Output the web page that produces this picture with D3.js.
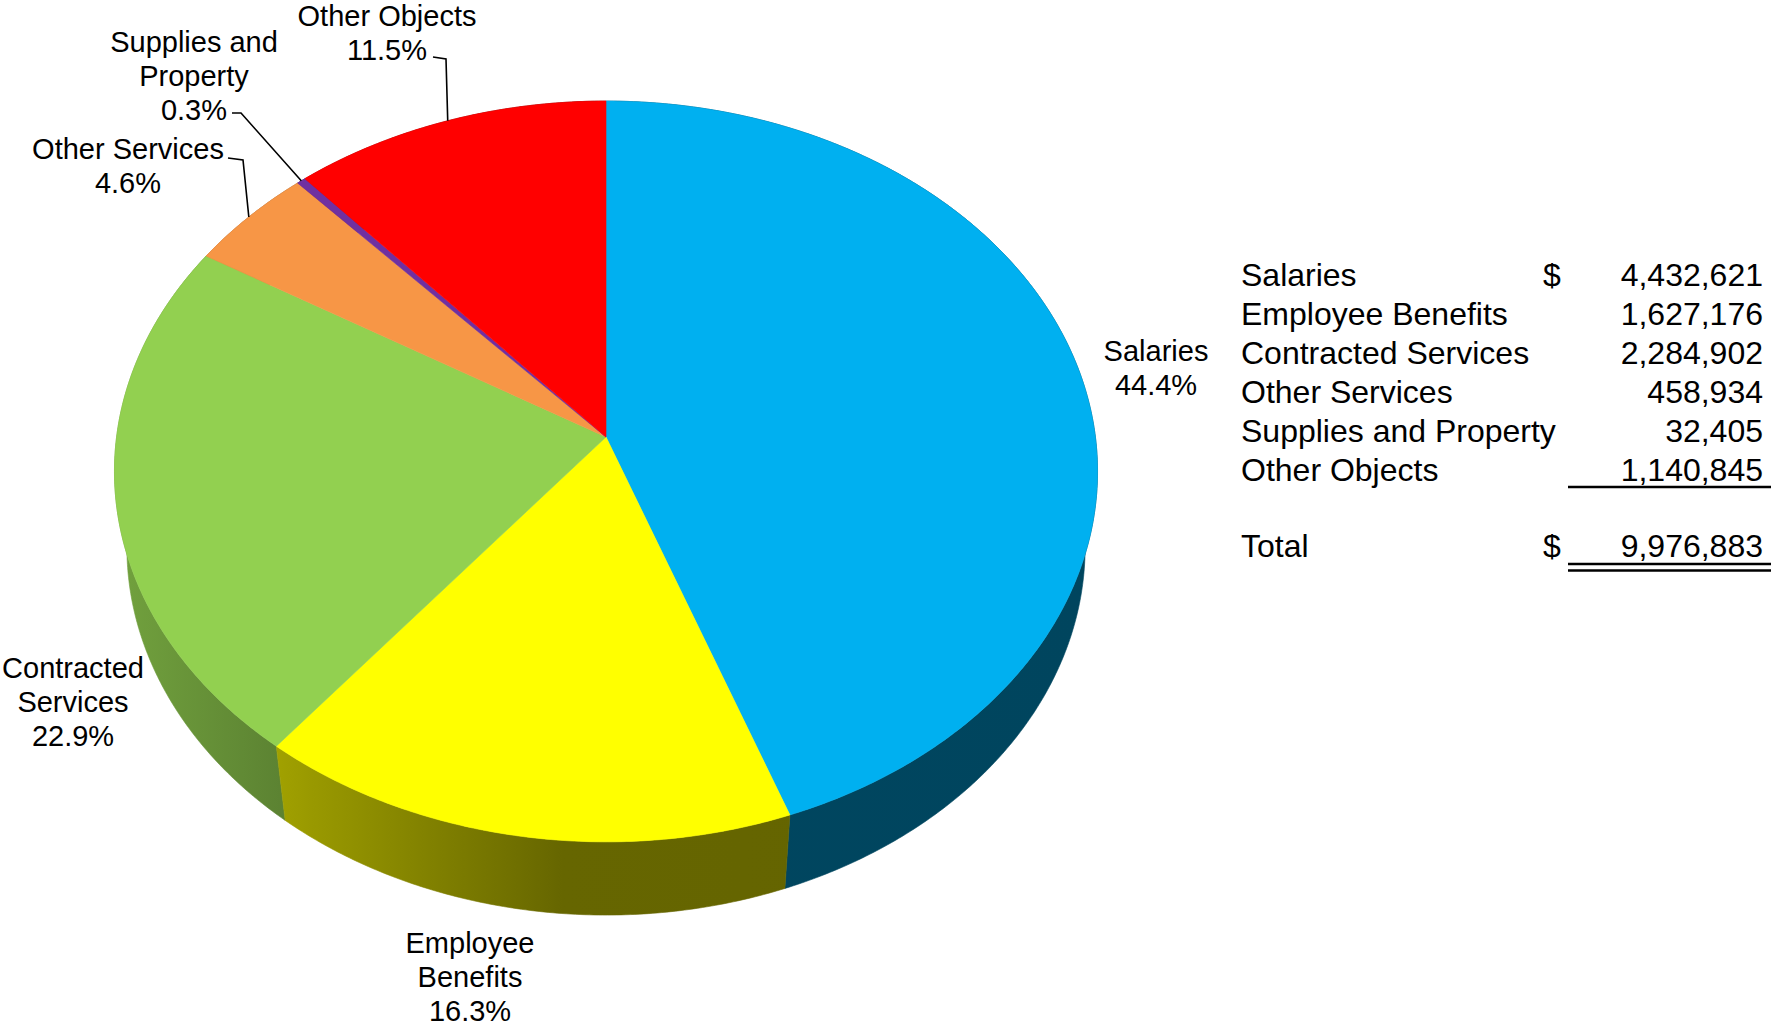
<!DOCTYPE html>
<html>
<head>
<meta charset="utf-8">
<script src="https://cdn.jsdelivr.net/npm/d3@7"></script>
<style>
  html, body { margin: 0; padding: 0; background: #ffffff; }
  svg { display: block; }
  text { font-family: "Liberation Sans", Arial, sans-serif; fill: #000; }
</style>
</head>
<body>
<svg id="chart" width="1771" height="1029"></svg>
<script>
// Expenditure categories, clockwise from twelve o'clock
const categories = ["Salaries", "Employee Benefits", "Contracted Services", "Other Services", "Supplies and Property", "Other Objects"];
const amounts = [4432621, 1627176, 2284902, 458934, 32405, 1140845];
const percentLabels = ["44.4%", "16.3%", "22.9%", "4.6%", "0.3%", "11.5%"];
const amountLabels = ["4,432,621", "1,627,176", "2,284,902", "458,934", "32,405", "1,140,845"];
const totalLabel = "9,976,883";
const sliceColors = ["#00b0f0", "#ffff00", "#92d050", "#f79646", "#7030a0", "#ff0000"];

// Pie label lines (category name split over lines, then the percentage)
const labelLines = [
  ["Salaries"],
  ["Employee", "Benefits"],
  ["Contracted", "Services"],
  ["Other Services"],
  ["Supplies and", "Property"],
  ["Other Objects"]
];

const svg = d3.select("#chart");

// ---- 3D perspective pie geometry ----
const cx = 606, cy = 437;          // projected centre of the pie's top face
const R = 489.4;                   // pie radius
const elev = Math.asin(0.7503);    // viewing elevation
const sinE = Math.sin(elev), cosE = Math.cos(elev);
const D = 3478;                    // camera distance
const H = 119;                     // pie thickness

function project(theta, r, y) {
  const X = r * Math.sin(theta);
  const Z = -r * Math.cos(theta);
  const yUp = y * cosE - Z * sinE;
  const depth = y * sinE + Z * cosE;
  const s = D / (D - depth);
  return [cx + s * X, cy - s * yUp];
}

function arcPoints(a0, a1, y) {
  const n = Math.max(2, Math.ceil((a1 - a0) / (Math.PI / 360)));
  const pts = [];
  for (let i = 0; i <= n; i++) pts.push(project(a0 + (a1 - a0) * i / n, R, y));
  return pts;
}

const pie = d3.pie().sort(null).value(d => d);
const arcs = pie(amounts);

// Side shading: lit from the left, darker toward the right
const defs = svg.append("defs");
sliceColors.forEach((c, i) => {
  const base = d3.rgb(c);
  const g = defs.append("linearGradient")
    .attr("id", "side" + i)
    .attr("gradientUnits", "userSpaceOnUse")
    .attr("x1", 114).attr("y1", 0).attr("x2", 1100).attr("y2", 0);
  [[0, 0.78], [0.2, 0.60], [0.455, 0.40], [1, 0.39]].forEach(([o, f]) => {
    g.append("stop").attr("offset", o)
      .attr("stop-color", d3.rgb(base.r * f, base.g * f, base.b * f).formatHex());
  });
});

const line = d3.line();

// Outer walls, far ones first
const wallOrder = arcs.map((a, i) => i)
  .sort((i, j) => Math.cos((arcs[j].startAngle + arcs[j].endAngle) / 2) - Math.cos((arcs[i].startAngle + arcs[i].endAngle) / 2));
const walls = svg.append("g");
wallOrder.forEach(i => {
  const a = arcs[i];
  const top = arcPoints(a.startAngle, a.endAngle, 0);
  const bottom = arcPoints(a.startAngle, a.endAngle, -H).reverse();
  walls.append("path")
    .attr("d", line(top.concat(bottom)) + "Z")
    .attr("fill", `url(#side${i})`)
    .attr("stroke", `url(#side${i})`)
    .attr("stroke-width", 0.6);
});

// Top faces
const tops = svg.append("g");
arcs.forEach((a, i) => {
  const pts = [project(0, 0, 0)].concat(arcPoints(a.startAngle, a.endAngle, 0));
  tops.append("path")
    .attr("d", line(pts) + "Z")
    .attr("fill", sliceColors[i])
    .attr("stroke", sliceColors[i])
    .attr("stroke-width", 0.6);
});

// ---- Data labels ----
const labelFont = 29, labelLead = 34;
// label block centre (x) and first-line centre (y)
const labelPos = [
  [1156, 351],
  [470, 943],
  [73, 668],
  [128, 149],
  [194, 42],
  [387, 16]
];
const labels = svg.append("g").attr("font-size", labelFont).attr("text-anchor", "middle");
arcs.forEach((a, i) => {
  const [lx, ly] = labelPos[i];
  const lines = labelLines[i].concat([percentLabels[i]]);
  lines.forEach((t, k) => {
    labels.append("text")
      .attr("x", lx)
      .attr("y", ly + k * labelLead + labelFont * 0.36)
      .text(t);
  });
});

// Leader lines from label elbows to the rim at each slice's mid-angle
const leaderElbows = {
  3: [[228, 158], [243, 160]],
  4: [[232, 113], [241, 113]],
  5: [[433, 57], [446, 59]]
};
Object.keys(leaderElbows).forEach(k => {
  const a = arcs[k];
  const rim = project((a.startAngle + a.endAngle) / 2, R, 0);
  svg.append("path")
    .attr("d", line(leaderElbows[k].concat([rim])))
    .attr("fill", "none")
    .attr("stroke", "#000")
    .attr("stroke-width", 1.6);
});

// ---- Amount table ----
const tableFont = 32, rowStep = 38.9, row0 = 274.5;
const table = svg.append("g").attr("font-size", tableFont);
categories.forEach((c, i) => {
  const y = row0 + i * rowStep + tableFont * 0.36;
  table.append("text").attr("x", 1241).attr("y", y).text(c);
  table.append("text").attr("x", 1763).attr("y", y).attr("text-anchor", "end").text(amountLabels[i]);
  if (i === 0) table.append("text").attr("x", 1543).attr("y", y).text("$");
});
const totalY = 545.5 + tableFont * 0.36;
table.append("text").attr("x", 1241).attr("y", totalY).text("Total");
table.append("text").attr("x", 1543).attr("y", totalY).text("$");
table.append("text").attr("x", 1763).attr("y", totalY).attr("text-anchor", "end").text(totalLabel);

const rules = svg.append("g").attr("stroke", "#000").attr("stroke-width", 2.6);
rules.append("line").attr("x1", 1568).attr("x2", 1771).attr("y1", 487).attr("y2", 487);
rules.append("line").attr("x1", 1568).attr("x2", 1771).attr("y1", 564).attr("y2", 564);
rules.append("line").attr("x1", 1568).attr("x2", 1771).attr("y1", 570.5).attr("y2", 570.5);
</script>
</body>
</html>
